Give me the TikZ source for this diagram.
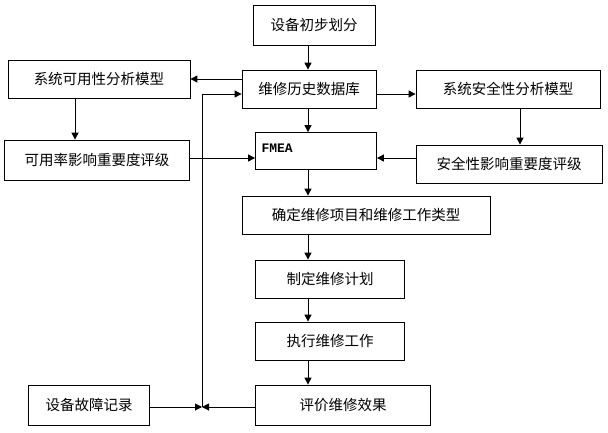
\documentclass[tikz,border=0pt]{standalone}
\usepackage{fontspec}
\setmainfont{Noto Sans CJK SC}
\newfontfamily\fmeafont{Liberation Mono}
\usetikzlibrary{arrows.meta}
\tikzset{
  box/.style={draw, line width=0.8pt, fill=white, inner sep=0pt,
    font=\fontsize{14.5pt}{16pt}\selectfont},
  link/.style={draw, line width=1pt, -{Triangle[length=7pt, width=7pt]}}
}
\begin{document}
\begin{tikzpicture}[x=1pt, y=-1pt]
  \useasboundingbox (0,0) rectangle (608,432);

  % Define boxes (centre, width, height)
  \node[box, minimum width=122pt, minimum height=40pt] (split) at (314,25) {设备初步划分};
  \node[box, minimum width=134pt, minimum height=38pt] (hist) at (309,89) {维修历史数据库};
  \node[box, minimum width=182pt, minimum height=38pt] (avmod) at (99,79) {系统可用性分析模型};
  \node[box, minimum width=184pt, minimum height=38pt] (safmod) at (508,89) {系统安全性分析模型};
  \node[box, minimum width=121pt, minimum height=37pt] (fmea) at (316,151) {};
  \node[font=\fmeafont\bfseries\fontsize{13pt}{15pt}\selectfont, anchor=west] (fmeatxt) at (258,148) {FMEA};
  \node[box, minimum width=185pt, minimum height=40pt] (avrank) at (97,160) {可用率影响重要度评级};
  \node[box, minimum width=186pt, minimum height=38pt] (safrank) at (509,164) {安全性影响重要度评级};
  \node[box, minimum width=248pt, minimum height=38pt] (item) at (366,215) {确定维修项目和维修工作类型};
  \node[box, minimum width=149pt, minimum height=38pt] (plan) at (330,279) {制定维修计划};
  \node[box, minimum width=149pt, minimum height=38pt] (exec) at (330,341) {执行维修工作};
  \node[box, minimum width=175pt, minimum height=40pt] (eval) at (343,405) {评价维修效果};
  \node[box, minimum width=121pt, minimum height=40pt] (fault) at (89,405) {设备故障记录};

  % Feedback junction and main column
  \coordinate (meet) at (202,407);
  \coordinate (up) at (202,94);
  \coordinate (col) at (308,0);

  % Main chain
  \draw[link] (split.south -| col) -- (hist.north -| col);
  \draw[link] (hist.south -| col) -- (fmea.north -| col);
  \draw[link] (fmea.south -| col) -- (item.north -| col);
  \draw[link] (item.south -| col) -- (plan.north -| col);
  \draw[link] (plan.south -| col) -- (exec.north -| col);
  \draw[link] (exec.south -| col) -- (eval.north -| col);

  % Side models
  \draw[link] (hist.west |- avmod.east) -- (avmod.east);
  \draw[link] (hist.east |- 0,94) -- (safmod.west |- 0,94);
  \draw[link] (avmod.south -| 75,0) -- (avrank.north -| 75,0);
  \draw[link] (safmod.south -| 520,0) -- (safrank.north -| 520,0);
  \draw[link] (avrank.east |- 0,158) -- (fmea.west |- 0,158);
  \draw[link] (safrank.west |- 0,158) -- (fmea.east |- 0,158);

  % Feedback to the database
  \draw[link] (fault.east |- meet) -- (meet);
  \draw[link] (eval.west |- meet) -- (meet);
  \draw[link] (meet) -- (up) -- (hist.west |- up);
\end{tikzpicture}
\end{document}
